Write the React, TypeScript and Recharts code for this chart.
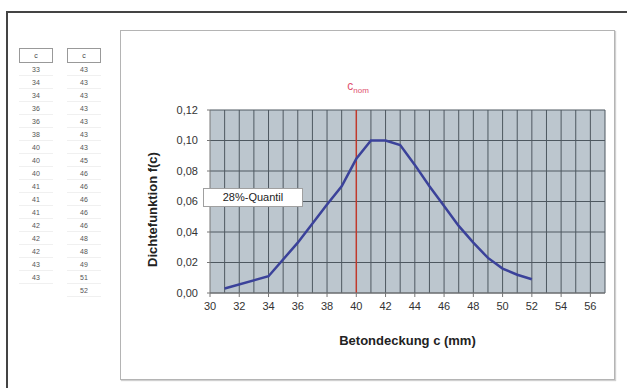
import React from 'react';
import {
  LineChart,
  Line,
  XAxis,
  YAxis,
  CartesianGrid,
  ReferenceLine,
} from 'recharts';

// Betondeckung c (mm) und Dichtefunktion f(c)
const coverValues = [31, 34, 36, 38, 39, 40, 41, 42, 43, 44, 45, 46, 47, 48, 49, 50, 51, 52];
const densityValues = [0.003, 0.011, 0.033, 0.058, 0.07, 0.088, 0.1, 0.1, 0.097, 0.084, 0.07, 0.057, 0.044, 0.033, 0.023, 0.016, 0.012, 0.009];

const xTicks = [30, 32, 34, 36, 38, 40, 42, 44, 46, 48, 50, 52, 54, 56];
const xGrid = [31, 32, 33, 34, 35, 36, 37, 38, 39, 41, 42, 43, 44, 45, 46, 47, 48, 49, 50, 51, 52, 53, 54, 55, 56, 57];
const yTicks = [0, 0.02, 0.04, 0.06, 0.08, 0.1, 0.12];
const cNom = 40;

// Messwerte links (Tabelle)
const tableLeft = [33, 34, 34, 36, 36, 38, 40, 40, 40, 41, 41, 41, 42, 42, 42, 43, 43];
const tableRight = [43, 43, 43, 43, 43, 43, 43, 45, 46, 46, 46, 46, 46, 48, 48, 49, 51, 52];

const data = coverValues.map((c, i) => ({ c, f: densityValues[i] }));

const font = '"Liberation Sans", Arial, sans-serif';

function MiniTable({ values, left }: { values: number[]; left: number }) {
  return (
    <div style={{ position: 'absolute', left, top: 48, width: 34 }}>
      <div
        style={{
          height: 13,
          border: '1px solid #999',
          fontSize: 7,
          lineHeight: '13px',
          textAlign: 'center',
          color: '#444',
        }}
      >
        c
      </div>
      {values.map((v, i) => (
        <div
          key={i}
          style={{
            height: 13,
            fontSize: 7,
            lineHeight: '13px',
            textAlign: 'center',
            color: '#555',
            borderBottom: '1px solid #f0f0f0',
            boxSizing: 'border-box',
          }}
        >
          {v}
        </div>
      ))}
    </div>
  );
}

export default function App() {
  return (
    <div
      style={{
        position: 'fixed',
        left: 0,
        top: 0,
        width: 627,
        height: 388,
        background: '#fff',
        overflow: 'hidden',
        fontFamily: font,
      }}
    >
      <div
        style={{
          position: 'absolute',
          left: 6,
          top: 11,
          width: 700,
          height: 500,
          borderTop: '2px solid #444',
          borderLeft: '2px solid #444',
        }}
      />
      <MiniTable values={tableLeft} left={19} />
      <MiniTable values={tableRight} left={67} />

      <div
        style={{
          position: 'absolute',
          left: 120,
          top: 30,
          width: 493,
          height: 348,
          border: '1px solid #b4b4b4',
          boxShadow: '1px 1px 1px #d0d0d0',
          background: '#fff',
        }}
      >
        <LineChart
          width={493}
          height={348}
          data={data}
          margin={{ top: 79, right: 9, left: 0, bottom: 0 }}
        >
          <CartesianGrid vertical={false} stroke="#4e5860" fill="#bcc6ce" />
          {xGrid.map((v) => (
            <ReferenceLine key={v} x={v} stroke="#4e5860" strokeWidth={1} />
          ))}
          <XAxis
            dataKey="c"
            type="number"
            domain={[30, 57]}
            ticks={xTicks}
            interval={0}
            allowDataOverflow
            tick={{ fontSize: 11, fill: '#333', fontFamily: font }}
            tickSize={4}
            tickMargin={5}
            tickLine={{ stroke: '#777' }}
            axisLine={{ stroke: '#777' }}
            height={86}
            label={(props: any) => {
              const vb = props.viewBox;
              return (
                <text
                  x={vb.x + vb.width / 2}
                  y={vb.y + 52}
                  textAnchor="middle"
                  fontSize={13}
                  fontWeight="bold"
                  fill="#222"
                  fontFamily={font}
                >
                  Betondeckung c (mm)
                </text>
              );
            }}
          />
          <YAxis
            type="number"
            domain={[0, 0.12]}
            ticks={yTicks}
            interval={0}
            width={89}
            tickFormatter={(v: number) => v.toFixed(2).replace('.', ',')}
            tick={{ fontSize: 11, fill: '#333', fontFamily: font }}
            tickSize={3}
            tickMargin={9}
            tickLine={{ stroke: '#777' }}
            axisLine={{ stroke: '#777' }}
            label={(props: any) => {
              const vb = props.viewBox;
              const cx = 31;
              const cy = vb.y + vb.height / 2 + 8;
              return (
                <text
                  x={cx}
                  y={cy}
                  transform={`rotate(-90 ${cx} ${cy})`}
                  textAnchor="middle"
                  dominantBaseline="central"
                  fontSize={13}
                  fontWeight="bold"
                  fill="#222"
                  fontFamily={font}
                >
                  Dichtefunktion f(c)
                </text>
              );
            }}
          />
          <ReferenceLine
            x={cNom}
            stroke="#c0392b"
            strokeWidth={1.5}
            label={(props: any) => {
              const vb = props.viewBox;
              return (
                <text x={vb.x - 9} y={vb.y - 20} fill="#e0506e" fontFamily={font} fontSize={12}>
                  <tspan>c</tspan>
                  <tspan dy={3} fontSize={8}>nom</tspan>
                </text>
              );
            }}
          />
          <Line
            type="linear"
            dataKey="f"
            stroke="#3b429a"
            strokeWidth={2.5}
            dot={false}
            isAnimationActive={false}
          />
        </LineChart>
      </div>

      <div
        style={{
          position: 'absolute',
          left: 203,
          top: 188,
          width: 98,
          height: 17,
          background: '#fff',
          border: '1px solid #a0a0a0',
          fontSize: 11,
          lineHeight: '17px',
          textAlign: 'center',
          color: '#222',
        }}
      >
        28%-Quantil
      </div>
    </div>
  );
}
